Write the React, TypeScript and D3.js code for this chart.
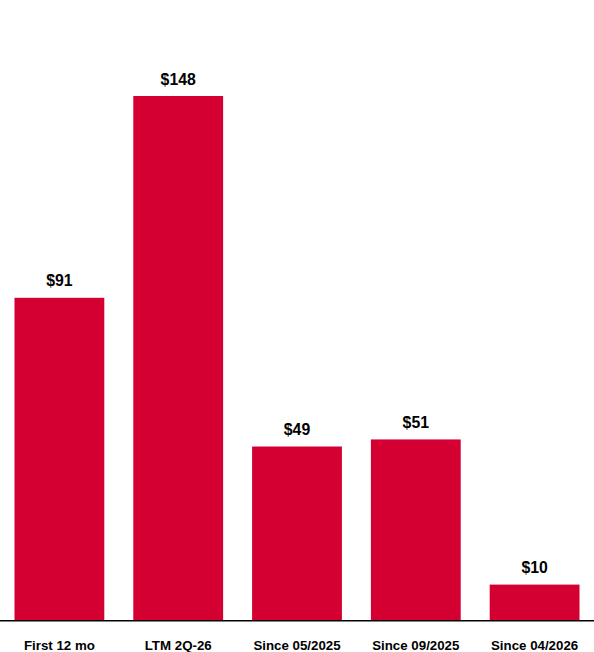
import React from "react";
import * as d3 from "d3";

const categories = ["First 12 mo", "LTM 2Q-26", "Since 05/2025", "Since 09/2025", "Since 04/2026"];
const values = [91, 148, 49, 51, 10];
const valueLabels = ["$91", "$148", "$49", "$51", "$10"];

const W = 594;
const H = 652;
const baseline = 620;
const topY = 96;

export default function App() {
  const x = d3.scaleBand<string>().domain(categories).range([0, W]).paddingInner(0.244).paddingOuter(0.122);
  const y = d3.scaleLinear().domain([0, 148]).range([baseline, topY]);
  const font = "'Liberation Sans', Arial, Helvetica, sans-serif";
  return (
    <svg width={W} height={H} style={{ position: "absolute", left: 0, top: 0, background: "#fff" }}>
      {categories.map((c, i) => (
        <g key={c}>
          <rect x={x(c)} y={y(values[i])} width={x.bandwidth()} height={baseline - y(values[i])} fill="#D40032" />
          <text x={(x(c) as number) + x.bandwidth() / 2} y={y(values[i]) - 11.5} textAnchor="middle" fontFamily={font} fontWeight="bold" fontSize={15.8} fill="#000">
            {valueLabels[i]}
          </text>
          <text x={(x(c) as number) + x.bandwidth() / 2} y={649.5} textAnchor="middle" fontFamily={font} fontWeight="bold" fontSize={13.3} fill="#000">
            {c}
          </text>
        </g>
      ))}
      <line x1={0} x2={W} y1={baseline + 0.8} y2={baseline + 0.8} stroke="#000" strokeWidth={1.6} />
    </svg>
  );
}
